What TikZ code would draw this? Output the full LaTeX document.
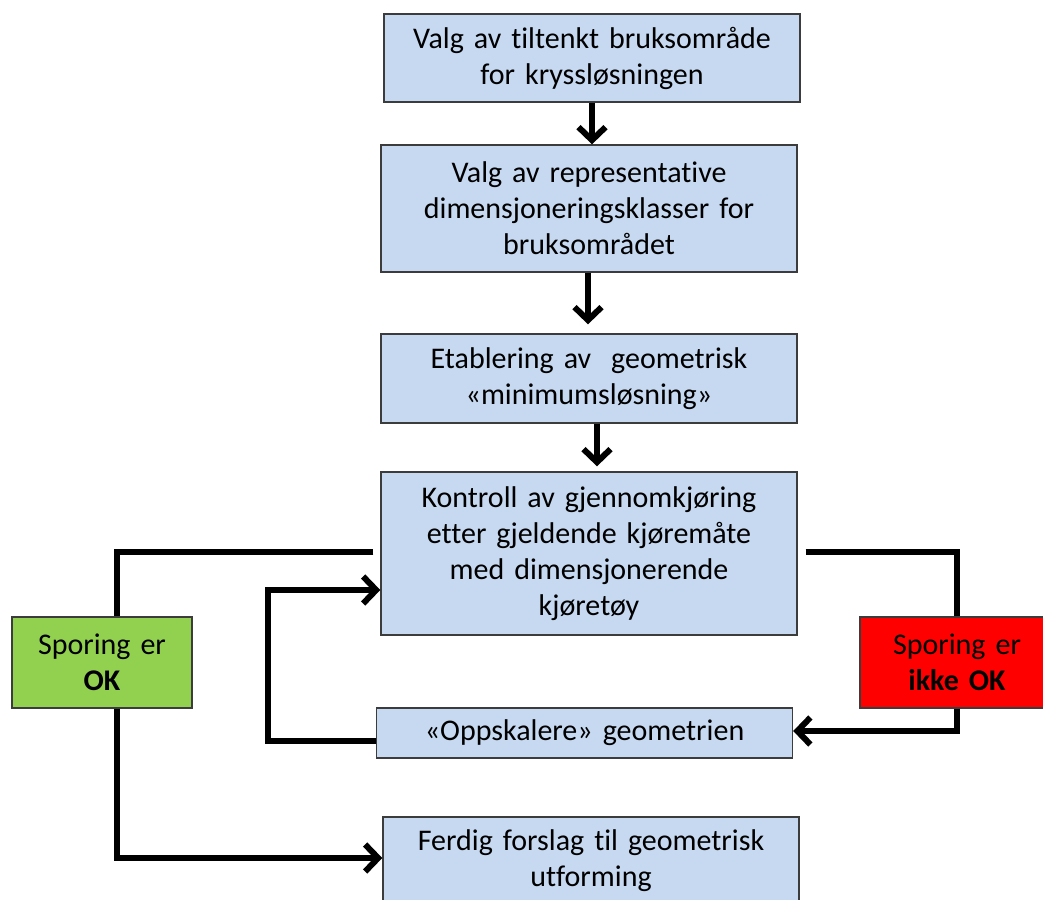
\documentclass[tikz,border=0pt]{standalone}
\usepackage{fontspec}
\setmainfont[Ligatures=NoCommon]{Carlito}
\usetikzlibrary{arrows.meta,calc}
\definecolor{boxblue}{HTML}{C6D9F1}
\definecolor{okgreen}{HTML}{92D050}
\definecolor{notred}{HTML}{FF0000}
\definecolor{edge}{HTML}{3C3C3C}
\tikzset{
  stepbox/.style={draw=edge, line width=1.4pt, fill=boxblue, align=center,
    inner sep=0pt, minimum width=416pt, text width=410pt,
    font=\fontsize{30}{36}\selectfont},
  statebox/.style={stepbox, minimum width=180pt, text width=176pt},
  conn/.style={line width=6pt, line join=miter},
  flow/.style={conn, -{Straight Barb[length=13pt,width=27pt]}},
}
\begin{document}
\begin{tikzpicture}[x=1pt,y=1pt]
\useasboundingbox (0,0) rectangle (1043,-899);
\fill[white] (0,0) rectangle (1043,-899);

% main chain
\node[stepbox, minimum height=88pt]  (b1) at (592,-58)    {Valg av tiltenkt bruksområde\\for kryssløsningen};
\node[stepbox, minimum height=127pt] (b2) at (589,-208.5) {Valg av representative\\dimensjoneringsklasser for\\bruksområdet};
\node[stepbox, minimum height=89pt]  (b3) at (589,-378.5) {Etablering av\ \ geometrisk\\«minimumsløsning»};
\node[stepbox, minimum height=163pt] (b4) at (589,-553.5) {Kontroll av gjennomkjøring\\etter gjeldende kjøremåte\\med dimensjonerende\\kjøretøy};
\node[stepbox, minimum height=50pt]  (b5) at (584.5,-733) {«Oppskalere» geometrien};
\node[stepbox, minimum height=88pt]  (b6) at (591,-861)   {Ferdig forslag til geometrisk\\utforming};

% decision boxes
\node[statebox, fill=okgreen, minimum height=91pt] (ok) at (102,-662.5) {Sporing er\\\textbf{OK}};
\node[statebox, fill=notred, minimum width=194pt, minimum height=91pt] (nok) at (957,-662.5) {Sporing er\\\textbf{ikke OK}};

% vertical flow arrows
\draw[flow] (b1.south -| 592,0) -- (b2.north -| 592,0);
\draw[flow] (b2.south -| 588,0) -- ([yshift=9pt]b3.north -| 588,0);
\draw[flow] (b3.south -| 597,0) -- ([yshift=5pt]b4.north -| 597,0);

% left branch: trace OK -> final proposal
\coordinate (okx) at ($(ok.north)+(15,0)$);
\draw[conn] ([xshift=-7pt,yshift=1.5pt]b4.west) -| (okx);
\draw[flow] ($(ok.south)+(15,0)$) |- ([yshift=3pt]b6.west);

% right branch: trace not OK -> scale up geometry
\draw[conn] ([xshift=8pt,yshift=1.5pt]b4.east) -| (nok.north);
\draw[flow] (nok.south) |- ([yshift=2pt]b5.east);

% loop back to the check
\draw[flow] ([yshift=-8pt]b5.west) -- ++(-108,0) |- ([yshift=-36.5pt]b4.west);
\end{tikzpicture}
\end{document}
